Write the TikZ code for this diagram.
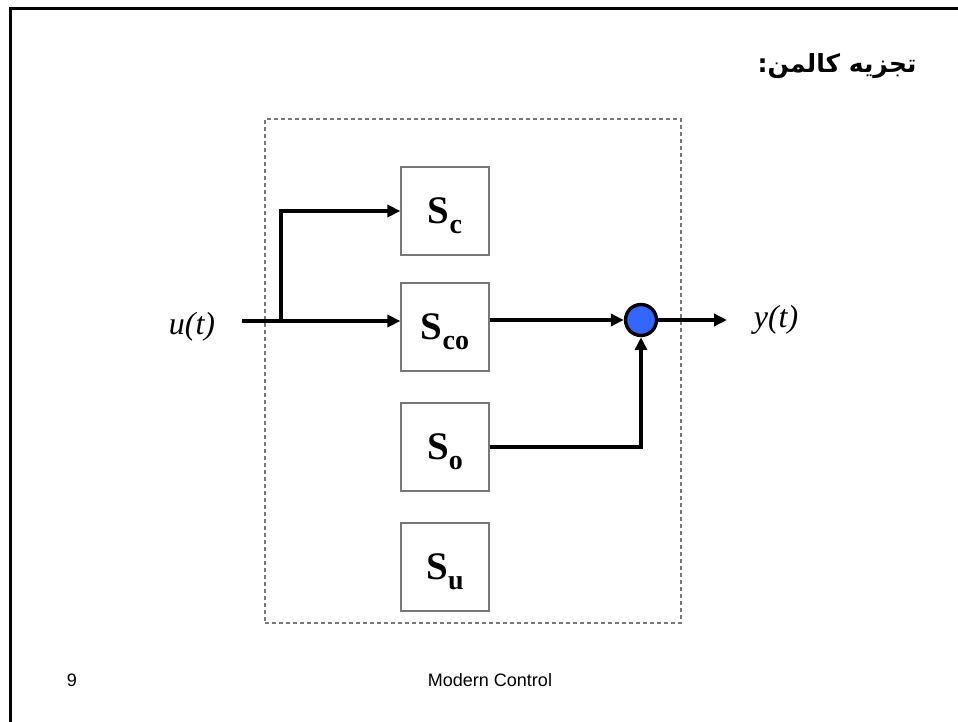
\documentclass[tikz,border=0pt]{standalone}
\usepackage{fontspec}
\setmainfont{Liberation Serif}
\newfontfamily\arabicfont[Script=Arabic]{DejaVu Sans}
\newfontfamily\footfont{Liberation Sans}
\TeXXeTstate=1
\usetikzlibrary{arrows.meta}
\definecolor{sumblue}{RGB}{51,102,255}
\definecolor{boxgray}{RGB}{120,120,120}
\newcommand{\sysl}[1]{{\fontsize{39}{42}\selectfont\bfseries S\raisebox{-10pt}[0pt][0pt]{\fontsize{28}{30}\selectfont #1}}}
\begin{document}
\begin{tikzpicture}[x=1pt,y=-1pt,
  sysbox/.style={draw=boxgray, line width=1.2pt, minimum width=88pt, minimum height=88pt, inner sep=0pt},
  frame/.style={draw=boxgray, line width=1.3pt, dash pattern=on 4pt off 3pt, minimum width=416pt, minimum height=504pt, inner sep=0pt},
  arr/.style={line width=3.6pt, -{Triangle[length=13pt,width=12pt]}},
  sumnode/.style={circle, draw=black, line width=3.4pt, fill=sumblue, minimum size=31pt, inner sep=0pt},
  sig/.style={font=\fontsize{32}{35}\selectfont\itshape},
  foot/.style={font=\footfont\fontsize{18}{20}\selectfont}]
\useasboundingbox (0,0) rectangle (958,722);
\draw[line width=3pt] (10.5,722) -- (10.5,8.5) -- (958,8.5);
\node[anchor=east] (title) at (920,66) {\arabicfont\bfseries\fontsize{25}{30}\selectfont\beginR تجزیه کالمن:\endR};
\node[frame] (fr) at (473,371) {};
\node[sysbox] (Sc) at (445,211) {\sysl{c}};
\node[sysbox] (Sco) at (445,327) {\sysl{co}};
\node[sysbox] (So) at (445,447) {\sysl{o}};
\node[sysbox] (Su) at (445,567) {\sysl{u}};
\node[sumnode] (sum) at (641,320) {};
\coordinate (uin) at (242,321);
\coordinate (br) at (281,321);
\coordinate (yout) at (727,320);
\node[sig] (ulab) at (192,327) {u(t)};
\node[sig] (ylab) at (776,320) {y(t)};
\draw[arr] (uin) -- (Sco.west |- uin);
\draw[arr] (br) |- (Sc.west);
\draw[arr] (Sco.east |- sum) -- (sum.west);
\draw[arr] (sum.east) -- (yout);
\draw[arr] (So.east) -| (sum.south);
\node[foot] (pg) at (72,680) {9};
\node[foot] (ft) at (490,680) {Modern Control};
\end{tikzpicture}
\end{document}
